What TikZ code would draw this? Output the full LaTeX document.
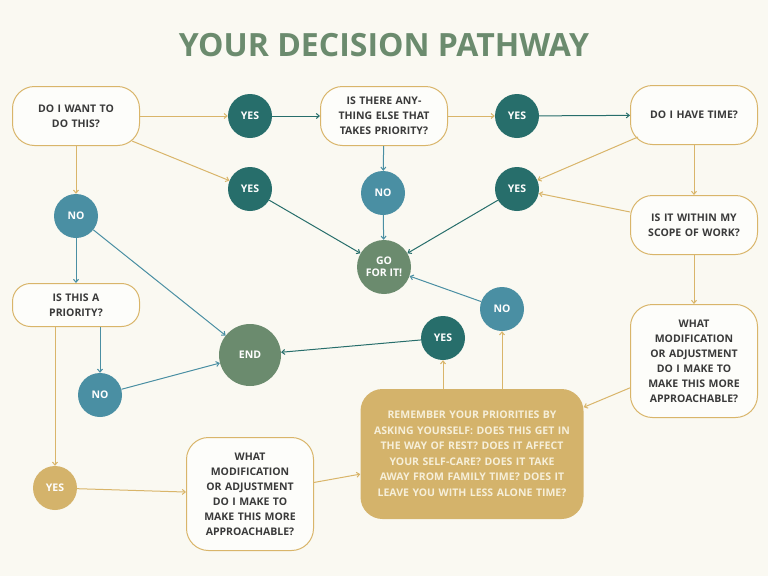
\documentclass[tikz,border=0pt]{standalone}
\usepackage{fontspec}
\setmainfont{Open Sans}
\usetikzlibrary{arrows.meta}
\definecolor{bg}{HTML}{FAF9F2}
\definecolor{gold}{HTML}{D9B56A}
\definecolor{goldf}{HTML}{D4B36B}
\definecolor{teal}{HTML}{276E6B}
\definecolor{blu}{HTML}{4A8FA3}
\definecolor{sage}{HTML}{6B8B6E}
\definecolor{txt}{HTML}{3A3A3A}
\definecolor{cream}{HTML}{F6EFD9}
\begin{document}
\begin{tikzpicture}[x=1pt,y=-1pt,
 box/.style={draw=gold,line width=1pt,fill=white!60!bg,rounded corners=22pt,minimum width=127pt,text width=115pt,align=center,font=\bfseries\fontsize{10.5}{15}\selectfont,text=txt,inner sep=2pt},
 circ/.style={circle,minimum size=44pt,inner sep=0pt,text=white!90!bg,font=\bfseries\fontsize{10.5}{12}\selectfont,align=center},
 yes/.style={circ,fill=teal},
 no/.style={circ,fill=blu},
 g/.style={draw=gold,line width=1pt,-{Straight Barb[length=3pt,width=5pt]}},
 t/.style={draw=teal,line width=1pt,-{Straight Barb[length=3pt,width=5pt]}},
 b/.style={draw=blu,line width=1pt,-{Straight Barb[length=3pt,width=5pt]}}]
\fill[bg] (0,0) rectangle (768,576);
\node[font=\bfseries\fontsize{32}{36}\selectfont,text=sage] (title) at (384,45) {YOUR DECISION PATHWAY};
\node[box,minimum height=59pt] (A) at (76,116) {DO I WANT TO\\DO THIS?};
\node[box,minimum height=59pt] (B) at (384,116) {IS THERE ANYTHING ELSE THAT TAKES PRIORITY?};
\node[box,minimum height=59pt] (C) at (694,115) {DO I HAVE TIME?};
\node[box,minimum height=59pt] (D) at (694,225) {IS IT WITHIN MY\\SCOPE OF WORK?};
\node[box,minimum height=43pt,rounded corners=18pt] (E) at (76,305) {IS THIS A\\PRIORITY?};
\node[box,minimum height=113pt] (F) at (694,361) {WHAT\\MODIFICATION OR ADJUSTMENT DO I MAKE TO MAKE THIS MORE APPROACHABLE?};
\node[box,minimum height=113pt] (H) at (250,494) {WHAT\\MODIFICATION OR ADJUSTMENT DO I MAKE TO MAKE THIS MORE APPROACHABLE?};
\node[fill=goldf,rounded corners=22pt,minimum width=223pt,minimum height=130pt,text width=205pt,align=center,text=cream,font=\bfseries\fontsize{10.5}{15.5}\selectfont,inner sep=2pt] (G) at (472,454) {REMEMBER YOUR PRIORITIES BY ASKING YOURSELF: DOES THIS GET IN THE WAY OF REST? DOES IT AFFECT YOUR SELF-CARE? DOES IT TAKE AWAY FROM FAMILY TIME? DOES IT LEAVE YOU WITH LESS ALONE TIME?};
\node[yes] (Y1) at (250,116) {YES};
\node[yes] (Y2) at (517,116) {YES};
\node[yes] (Y3) at (250,189) {YES};
\node[yes] (Y4) at (517,189) {YES};
\node[yes] (Y5) at (443,338) {YES};
\node[circ,fill=goldf] (Y6) at (55,488) {YES};
\node[no] (N0) at (76,216) {NO};
\node[no] (N1) at (383,193) {NO};
\node[no] (N2) at (100,395) {NO};
\node[no] (N3) at (502,309) {NO};
\node[circ,fill=sage,minimum size=54pt] (GO) at (384,267) {GO\\FOR IT!};
\node[circ,fill=sage,minimum size=62pt] (END) at (250,355) {END};
\draw[g] (A) -- (Y1);
\draw[t] (Y1) -- (B);
\draw[g] (B) -- (Y2);
\draw[t] (Y2) -- (C);
\draw[g] (A.south east) ++(-8,-5) coordinate (a1) -- (Y3);
\draw[t] (Y3) -- (GO);
\draw[b] (B) -- (N1);
\draw[b] (N1) -- (GO);
\draw[g] (C.south west) ++(8,-8) coordinate (c1) -- (Y4);
\draw[t] (Y4) -- (GO);
\draw[g] (C) -- (D);
\draw[g] (D) -- (Y4);
\draw[g] (A) -- (N0);
\draw[b] (N0) -- (E);
\draw[b] (N0) -- (END);
\draw[b] ([xshift=24pt]E.south) -- (N2);
\draw[b] (N2) -- (END);
\draw[g] ([xshift=-21pt]E.south) -- (Y6);
\draw[g] (Y6) -- (H);
\draw[g] (H) -- (G);
\draw[g] (D) -- (F);
\draw[g] (F) -- (G);
\draw[g] (Y5|-G.north) -- (Y5);
\draw[g] (N3|-G.north) -- (N3);
\draw[t] (Y5) -- (END);
\draw[b] (N3) -- (GO);
\end{tikzpicture}
\end{document}
